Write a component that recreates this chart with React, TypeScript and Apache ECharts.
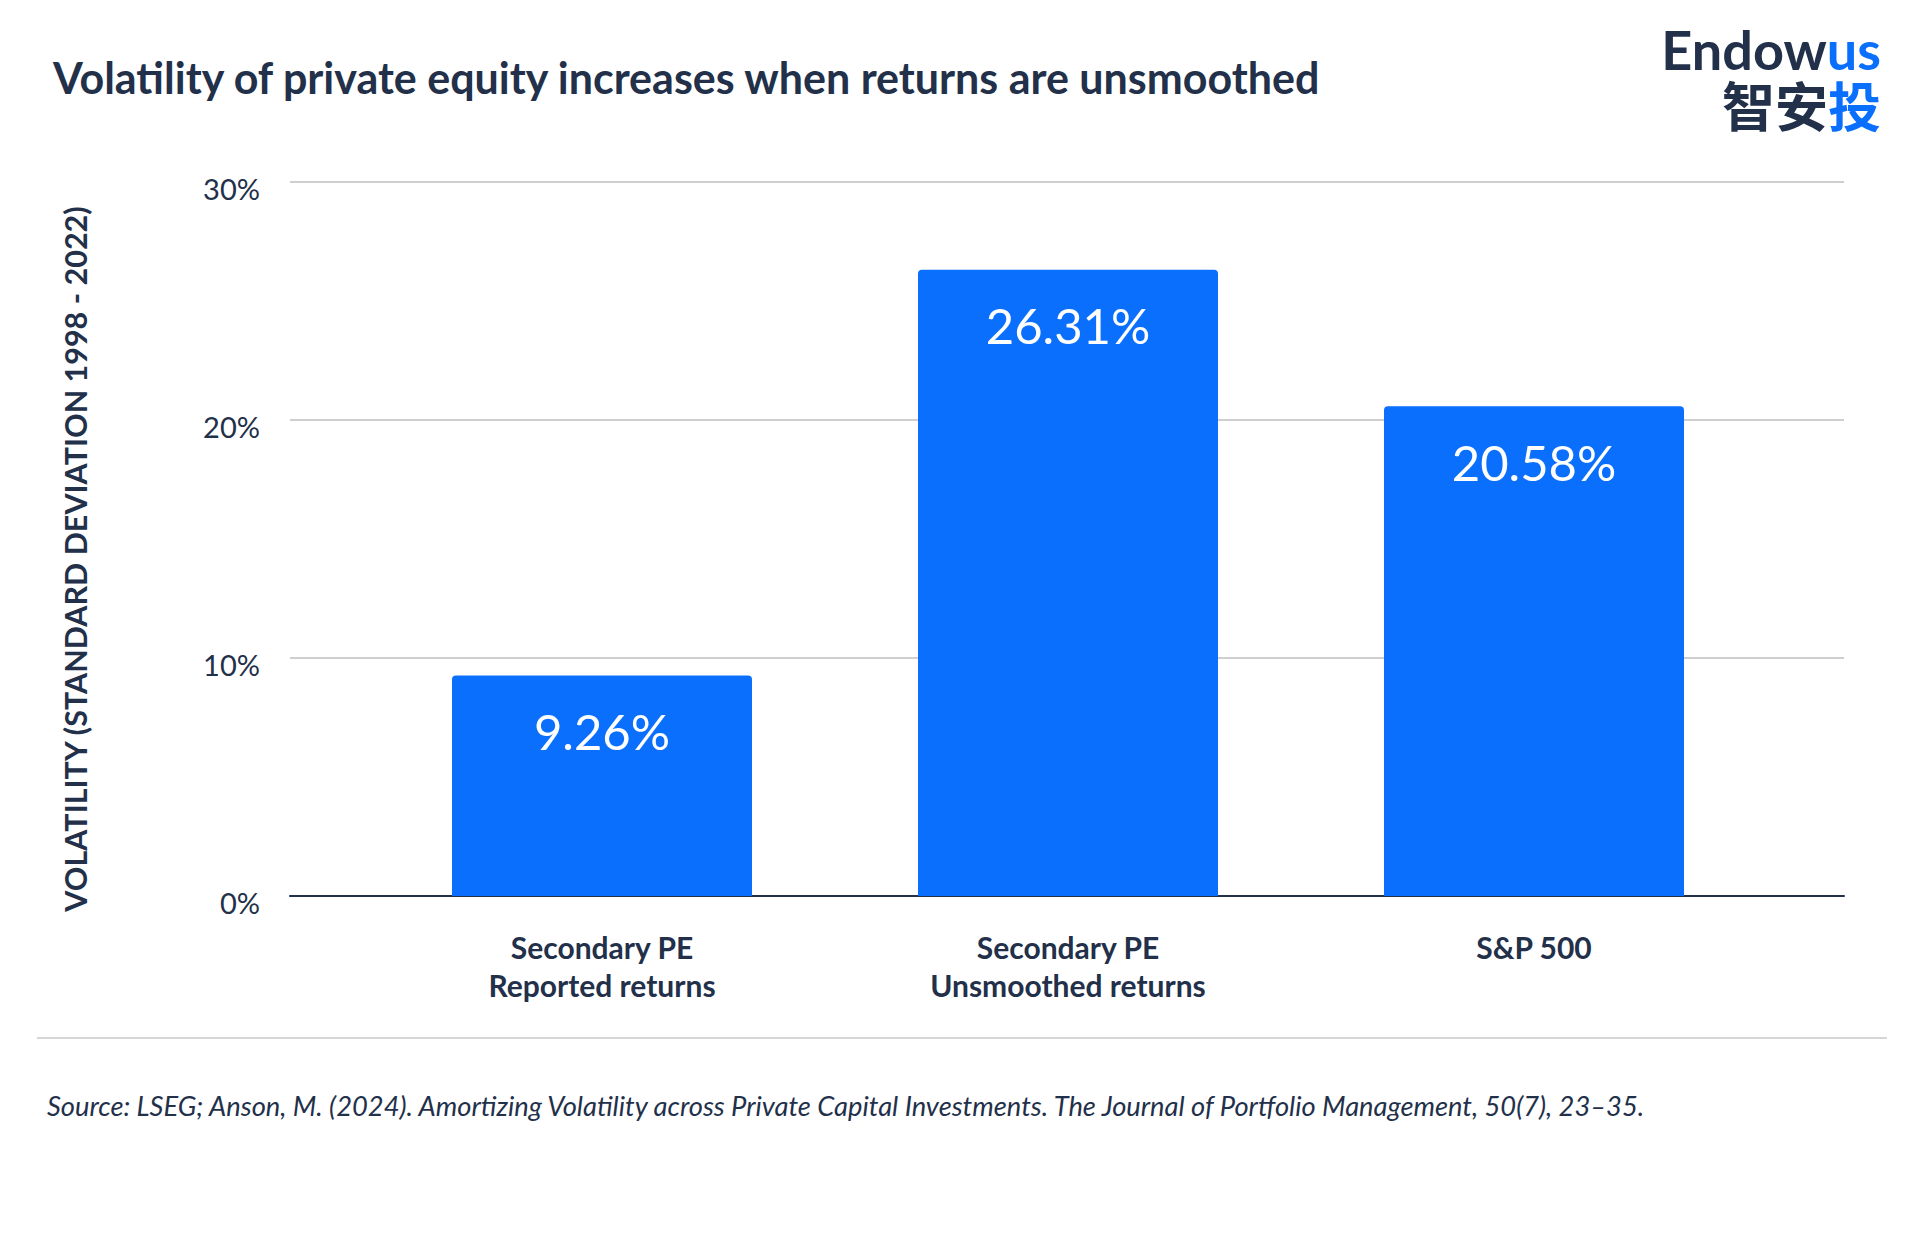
import React, { useEffect, useRef } from "react";
import * as echarts from "echarts";

type EChartsOption = echarts.EChartsOption;

const categories = [
  "Secondary PE\nReported returns",
  "Secondary PE\nUnsmoothed returns",
  "S&P 500",
];
const volatility = [9.26, 26.31, 20.58];
const yTicks = { min: 0, max: 30, interval: 10 };

const NAVY = "#22304a";
const BLUE = "#0a6ffd";
const FONT = "Lato, 'Noto Sans', sans-serif";
const CJK = "'Noto Sans CJK SC', sans-serif";

// measure a string so the two-colour logo words can sit side by side
const textWidth = (text: string, font: string) => {
  const ctx = document.createElement("canvas").getContext("2d");
  if (!ctx) return text.length * 28;
  ctx.font = font;
  return ctx.measureText(text).width;
};

const VolatilityChart: React.FC = () => {
  const chartRef = useRef<HTMLDivElement>(null);

  useEffect(() => {
    if (!chartRef.current) return;
    const chart = echarts.init(chartRef.current, undefined, { renderer: "svg" });

    const logoRight = 1881;
    const usWidth = textWidth("us", `bold 54px ${FONT}`);
    const cjkSize = 53;

    const option: EChartsOption = {
      animation: false,
      backgroundColor: "#ffffff",
      textStyle: { fontFamily: FONT },
      title: {
        text: "Volatility of private equity increases when returns are unsmoothed",
        left: 53,
        top: 56,
        padding: 0,
        textStyle: { fontFamily: FONT, fontSize: 43, fontWeight: "bold", color: NAVY },
      },
      grid: [
        // gridlines + y axis
        { left: 290, right: 76, top: 182, bottom: 344 },
        // bars + category labels
        { left: 369, right: 153, top: 182, bottom: 344 },
      ],
      xAxis: [
        {
          type: "category",
          gridIndex: 0,
          data: categories,
          axisLine: { show: true, lineStyle: { color: NAVY, width: 2 } },
          axisTick: { show: false },
          axisLabel: { show: false },
        },
        {
          type: "category",
          gridIndex: 1,
          data: categories,
          axisLine: { show: false },
          axisTick: { show: false },
          axisLabel: {
            color: NAVY,
            fontFamily: FONT,
            fontSize: 30,
            fontWeight: "bold",
            lineHeight: 38,
            margin: 32,
          },
        },
      ],
      yAxis: [
        {
          type: "value",
          gridIndex: 0,
          min: yTicks.min,
          max: yTicks.max,
          interval: yTicks.interval,
          name: "VOLATILITY (STANDARD DEVIATION 1998 - 2022)",
          nameLocation: "middle",
          nameRotate: 90,
          nameGap: 200,
          nameTextStyle: {
            color: NAVY,
            fontFamily: FONT,
            fontSize: 30.5,
            fontWeight: "bold",
            padding: [0, 40, 0, 0],
          },
          axisLine: { show: false },
          axisTick: { show: false },
          axisLabel: {
            formatter: "{value}%",
            color: NAVY,
            fontFamily: FONT,
            fontSize: 29,
            margin: 30,
            verticalAlign: "top",
            lineHeight: 12,
          },
          splitLine: { lineStyle: { color: "#cfcfcf", width: 2 } },
        },
        {
          type: "value",
          gridIndex: 1,
          min: yTicks.min,
          max: yTicks.max,
          interval: yTicks.interval,
          show: false,
        },
      ],
      series: [
        {
          type: "bar",
          xAxisIndex: 1,
          yAxisIndex: 1,
          data: volatility,
          barWidth: 300,
          itemStyle: { color: BLUE, borderRadius: [4, 4, 0, 0] },
          label: {
            show: true,
            position: "insideTop",
            distance: 31,
            formatter: (p: any) => `${p.value.toFixed(2)}%`,
            color: "#ffffff",
            fontFamily: FONT,
            fontSize: 49,
          },
        },
      ],
      graphic: [
        {
          type: "text",
          x: logoRight - usWidth,
          y: 49,
          style: {
            text: "Endow",
            align: "right",
            verticalAlign: "middle",
            fontFamily: FONT,
            fontSize: 54,
            lineHeight: 48,
            fontWeight: "bold",
            fill: NAVY,
          },
        },
        {
          type: "text",
          x: logoRight,
          y: 49,
          style: {
            text: "us",
            align: "right",
            verticalAlign: "middle",
            fontFamily: FONT,
            fontSize: 54,
            lineHeight: 48,
            fontWeight: "bold",
            fill: BLUE,
          },
        },
        {
          type: "text",
          x: logoRight - cjkSize,
          y: 104,
          style: {
            text: "智安",
            align: "right",
            verticalAlign: "middle",
            fontFamily: CJK,
            fontSize: cjkSize,
            lineHeight: 50,
            fontWeight: "bold",
            fill: NAVY,
          },
        },
        {
          type: "text",
          x: logoRight,
          y: 104,
          style: {
            text: "投",
            align: "right",
            verticalAlign: "middle",
            fontFamily: CJK,
            fontSize: cjkSize,
            lineHeight: 50,
            fontWeight: "bold",
            fill: BLUE,
          },
        },
        {
          type: "line",
          shape: { x1: 37, y1: 1038, x2: 1887, y2: 1038 },
          style: { stroke: "#d6d6d6", lineWidth: 2 },
        },
        {
          type: "text",
          left: 47,
          top: 1092,
          style: {
            text: "Source: LSEG; Anson, M. (2024). Amortizing Volatility across Private Capital Investments. The Journal of Portfolio Management, 50(7), 23–35.",
            fontFamily: FONT,
            fontStyle: "italic",
            fontSize: 27.3,
            fill: NAVY,
          },
        },
      ],
    };

    chart.setOption(option);
    return () => chart.dispose();
  }, []);

  return (
    <div
      ref={chartRef}
      style={{ position: "absolute", left: 0, top: 0, width: "1920px", height: "1240px" }}
    />
  );
};

export default function App() {
  return <VolatilityChart />;
}
